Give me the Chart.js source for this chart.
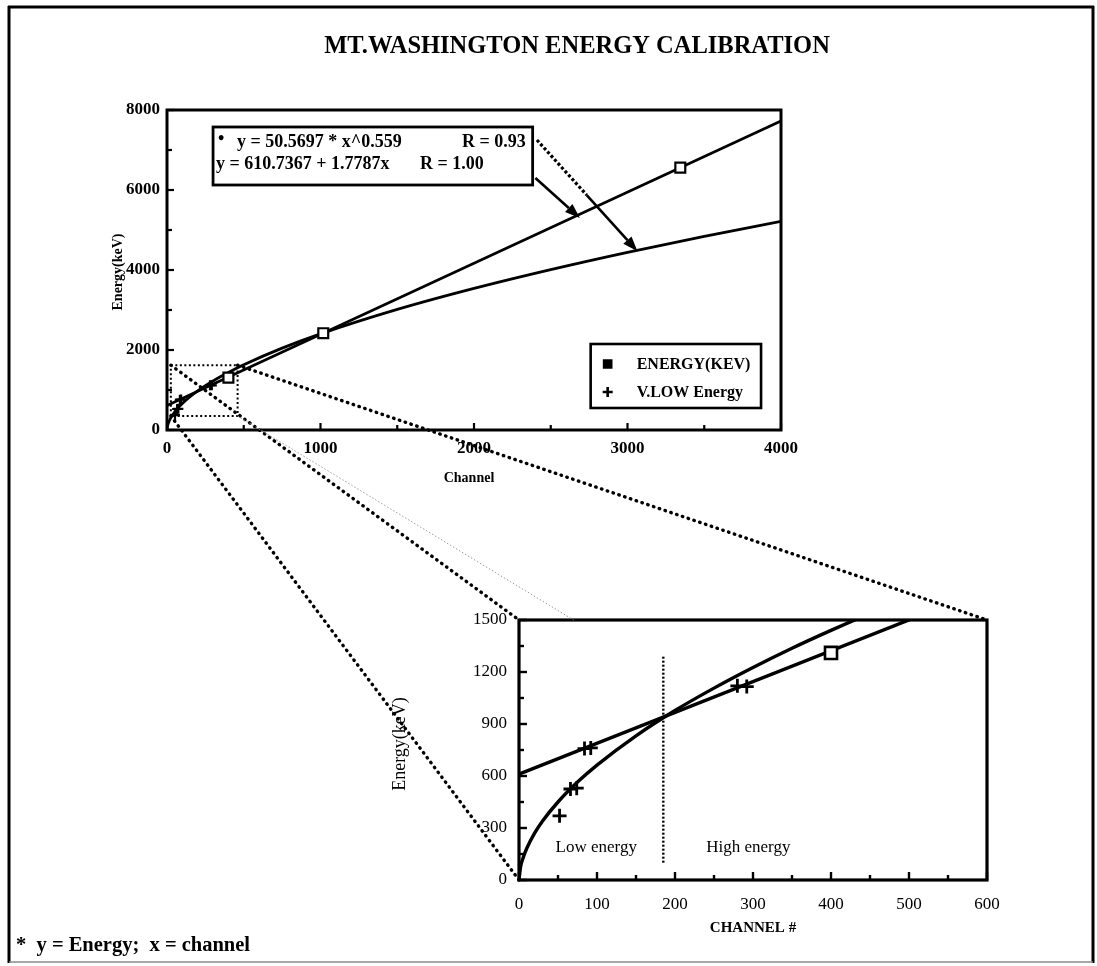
<!DOCTYPE html>
<html>
<head>
<meta charset="utf-8">
<title>MT.WASHINGTON ENERGY CALIBRATION</title>
<script src="https://cdn.jsdelivr.net/npm/chart.js@4.4.1/dist/chart.umd.min.js"></script>
<style>
  html, body { margin: 0; padding: 0; background: #fff; }
  #page { position: relative; width: 1097px; height: 966px; background: #fff; }
  #page canvas { position: absolute; left: 0; top: 0; }
</style>
</head>
<body>
<div id="page">
  <canvas id="mainChart" width="1097" height="966"></canvas>
  <canvas id="insetChart" width="1097" height="966"></canvas>
</div>
<script>
// ---- Calibration data ----
// Calibration lines measured with the reference sources (channel -> keV)
const energyChannel = [400, 1018, 3344];
const energyKeV     = [1310, 2420, 6560];

// Very-low-energy calibration lines
const vlowChannel = [52, 66, 74, 84, 92, 280, 292];
const vlowKeV     = [370, 525, 530, 758, 762, 1120, 1116];

// Linear fit  y = 610.7367 + 1.7787x
const linFitChannel = [0, 4000];
const linFitKeV     = [611, 7726];

// Power-law fit  y = 50.5697 * x^0.559
const powFitChannel = [0, 2, 5, 10, 20, 30, 50, 75, 100, 150, 200, 250, 300, 350, 400, 450, 500, 750, 1000, 1500, 2000, 2500, 3000, 3500, 4000];
const powFitKeV     = [0, 75, 124, 183, 270, 339, 450, 565, 663, 832, 978, 1107, 1226, 1337, 1440, 1538, 1632, 2047, 2404, 3015, 3541, 4011, 4443, 4842, 5215];

// Low / high energy split in the close-up
const splitChannel = [185, 185];
const splitKeV     = [100, 1290];

// Region of the main plot that is enlarged in the close-up
const zoomChannel = [25, 460];
const zoomKeV     = [350, 1620];

// Labelled ticks
const mainXTicks  = [0, 1000, 2000, 3000, 4000];
const mainYTicks  = [0, 2000, 4000, 6000, 8000];
const insetXTicks = [0, 100, 200, 300, 400, 500, 600];
const insetYTicks = [0, 300, 600, 900, 1200, 1500];

const fitLabels = ['y = 50.5697 * x^0.559', 'y = 610.7367 + 1.7787x'];
const fitR      = ['R = 0.93', 'R = 1.00'];

// ---- helpers ----
const SERIF = "'Liberation Serif', 'Times New Roman', serif";
const cssFont = (weight, size) => `${weight} ${size}px ${SERIF}`;
const pts = (xs, ys) => xs.map((x, i) => ({ x, y: ys[i] }));

function seg(ctx, x1, y1, x2, y2) {
  ctx.beginPath(); ctx.moveTo(x1, y1); ctx.lineTo(x2, y2); ctx.stroke();
}

function dotted(ctx, x1, y1, x2, y2, width) {
  ctx.save();
  ctx.lineCap = 'round';
  ctx.lineWidth = width;
  ctx.setLineDash([0.5, 5.6]);
  seg(ctx, x1, y1, x2, y2);
  ctx.restore();
}

function arrow(ctx, x1, y1, x2, y2, dottedPart) {
  const ang = Math.atan2(y2 - y1, x2 - x1);
  const head = 15, hw = 5.5;
  const bx = x2 - head * Math.cos(ang), by = y2 - head * Math.sin(ang);
  const mx = x1 + (bx - x1) * dottedPart, my = y1 + (by - y1) * dottedPart;
  if (dottedPart > 0) {
    ctx.save(); ctx.lineWidth = 3.2; ctx.setLineDash([3, 2.2]); seg(ctx, x1, y1, mx, my); ctx.restore();
  }
  seg(ctx, mx, my, bx, by);
  ctx.beginPath();
  ctx.moveTo(x2, y2);
  ctx.lineTo(bx + hw * Math.sin(ang), by - hw * Math.cos(ang));
  ctx.lineTo(bx - hw * Math.sin(ang), by + hw * Math.cos(ang));
  ctx.closePath();
  ctx.fill();
}

// inward tick marks along the bottom and left edges of the plot frame
function tickMarks(chart, majorLen, minorLen, lw) {
  const { ctx, chartArea: a, scales: { x, y } } = chart;
  ctx.save();
  ctx.strokeStyle = '#000';
  ctx.lineWidth = lw;
  x.ticks.forEach(t => {
    const px = x.getPixelForValue(t.value);
    const len = t.label !== '' ? majorLen : minorLen;
    seg(ctx, px, a.bottom, px, a.bottom - len);
  });
  y.ticks.forEach(t => {
    const py = y.getPixelForValue(t.value);
    const len = t.label !== '' ? majorLen : minorLen;
    seg(ctx, a.left, py, a.left + len, py);
  });
  ctx.restore();
}

function rotatedText(ctx, text, cx, cy) {
  ctx.save();
  ctx.translate(cx, cy);
  ctx.rotate(-Math.PI / 2);
  ctx.textAlign = 'center';
  ctx.textBaseline = 'middle';
  ctx.fillText(text, 0, 0);
  ctx.restore();
}

// ---- main chart decorations ----
const mainDecor = {
  id: 'mainDecor',
  afterDraw(chart) {
    const { ctx, chartArea: a, scales: { x, y } } = chart;
    ctx.save();

    // page frame
    ctx.strokeStyle = '#000';
    ctx.lineWidth = 3;
    seg(ctx, 8, 7, 1094, 7);
    seg(ctx, 9, 6, 9, 963);
    seg(ctx, 1093, 6, 1093, 963);
    ctx.strokeStyle = '#8a8a8a';
    ctx.lineWidth = 1.5;
    seg(ctx, 9, 962, 1093, 962);

    // title and footnote
    ctx.fillStyle = '#000';
    ctx.font = cssFont('bold', 24.5);
    ctx.textAlign = 'center';
    ctx.textBaseline = 'middle';
    ctx.fillText('MT.WASHINGTON ENERGY CALIBRATION', 577, 47);
    ctx.textAlign = 'left';
    ctx.font = cssFont('bold', 20.5);
    ctx.fillText('*  y = Energy;  x = channel', 16, 946);

    // plot frame and ticks
    ctx.strokeStyle = '#000';
    ctx.lineWidth = 3;
    ctx.strokeRect(a.left, a.top, a.right - a.left, a.bottom - a.top);
    tickMarks(chart, 7, 5, 2.2);

    // axis titles
    ctx.font = cssFont('bold', 14);
    ctx.textAlign = 'center';
    ctx.textBaseline = 'middle';
    ctx.fillText('Channel', (a.left + a.right) / 2 - 5, a.bottom + 48);
    rotatedText(ctx, 'Energy(keV)', a.left - 49, (a.top + a.bottom) / 2 + 2);

    // dotted box around the enlarged region
    const zx1 = x.getPixelForValue(zoomChannel[0]), zx2 = x.getPixelForValue(zoomChannel[1]);
    const zy1 = y.getPixelForValue(zoomKeV[1]), zy2 = y.getPixelForValue(zoomKeV[0]);
    ctx.save();
    ctx.lineWidth = 2;
    ctx.setLineDash([2, 2.5]);
    ctx.strokeRect(zx1, zy1, zx2 - zx1, zy2 - zy1);
    ctx.restore();

    // fit equations box
    const bx1 = x.getPixelForValue(300), bx2 = x.getPixelForValue(2382);
    const by1 = y.getPixelForValue(7575), by2 = y.getPixelForValue(6125);
    ctx.fillStyle = '#fff';
    ctx.fillRect(bx1, by1, bx2 - bx1, by2 - by1);
    ctx.lineWidth = 2.8;
    ctx.strokeRect(bx1, by1, bx2 - bx1, by2 - by1);
    ctx.fillStyle = '#000';
    ctx.font = cssFont('bold', 18);
    ctx.textAlign = 'left';
    ctx.fillText('\u2022', bx1 + 5, by1 + 12);
    ctx.fillText(fitLabels[0], bx1 + 24, by1 + 15);
    ctx.fillText(fitLabels[1], bx1 + 3, by1 + 37);
    ctx.textAlign = 'right';
    ctx.fillText(fitR[0], bx2 - 7, by1 + 15);
    ctx.textAlign = 'left';
    ctx.fillText(fitR[1], bx1 + 207, by1 + 37);

    // arrows from the equations to their curves
    ctx.strokeStyle = '#000';
    ctx.lineWidth = 2.6;
    arrow(ctx, x.getPixelForValue(2400), y.getPixelForValue(6300),
               x.getPixelForValue(2690), y.getPixelForValue(5300), 0);
    arrow(ctx, x.getPixelForValue(2410), y.getPixelForValue(7250),
               x.getPixelForValue(3065), y.getPixelForValue(4470), 0.55);

    // legend box
    const lx1 = x.getPixelForValue(2760), lx2 = x.getPixelForValue(3870);
    const ly1 = y.getPixelForValue(2150), ly2 = y.getPixelForValue(550);
    ctx.fillStyle = '#fff';
    ctx.fillRect(lx1, ly1, lx2 - lx1, ly2 - ly1);
    ctx.lineWidth = 2.6;
    ctx.strokeRect(lx1, ly1, lx2 - lx1, ly2 - ly1);
    ctx.fillStyle = '#000';
    ctx.font = cssFont('bold', 16);
    ctx.textAlign = 'left';
    ctx.textBaseline = 'middle';
    [2, 3].forEach((di, row) => {
      const ds = chart.data.datasets[di];
      const ry = ly1 + 20 + row * 28;
      Chart.helpers.drawPoint(ctx, {
        pointStyle: ds.pointStyle, radius: 5, borderWidth: 3, rotation: 0
      }, lx1 + 17, ry);
      ctx.fillText(ds.label, lx1 + 46, ry + 1);
    });
    ctx.restore();
  }
};

const mainTickFont = { family: SERIF, size: 17, weight: 'bold' };

const mainChart = new Chart(document.getElementById('mainChart'), {
  type: 'scatter',
  data: {
    datasets: [
      { label: 'Linear fit', data: pts(linFitChannel, linFitKeV), showLine: true,
        borderColor: '#000', borderWidth: 2.8, pointRadius: 0, order: 3 },
      { label: 'Power fit', data: pts(powFitChannel, powFitKeV), showLine: true,
        borderColor: '#000', borderWidth: 2.8, pointRadius: 0, cubicInterpolationMode: 'monotone', order: 3 },
      { label: 'ENERGY(KEV)', data: pts(energyChannel, energyKeV), pointStyle: 'rect',
        pointRadius: 7, borderColor: '#000', backgroundColor: '#fff', borderWidth: 2.2, order: 1 },
      { label: 'V.LOW Energy', data: pts(vlowChannel, vlowKeV), pointStyle: 'cross',
        pointRadius: 5, borderColor: '#000', borderWidth: 2.2, order: 1 }
    ]
  },
  options: {
    responsive: false,
    devicePixelRatio: 1,
    animation: false,
    events: [],
    layout: { padding: { left: 100, top: 110, right: 316, bottom: 506 } },
    plugins: { legend: { display: false }, tooltip: { enabled: false } },
    scales: {
      x: {
        type: 'linear', min: 0, max: 4000,
        grid: { display: false, drawTicks: false }, border: { display: false },
        ticks: { stepSize: 500, autoSkip: false, maxRotation: 0, padding: 8, color: '#000', font: mainTickFont,
                 callback: v => mainXTicks.includes(v) ? String(v) : '' },
        afterFit: s => { s.height = 30; }
      },
      y: {
        type: 'linear', min: 0, max: 8000,
        grid: { display: false, drawTicks: false }, border: { display: false },
        ticks: { stepSize: 1000, autoSkip: false, padding: 7, color: '#000', font: mainTickFont,
                 callback: v => mainYTicks.includes(v) ? String(v) : '' },
        afterFit: s => { s.width = 67; }
      }
    }
  },
  plugins: [mainDecor]
});

// ---- close-up chart decorations ----
const insetDecor = {
  id: 'insetDecor',
  afterDraw(chart) {
    const { ctx, chartArea: a, scales: { x, y } } = chart;
    ctx.save();
    ctx.strokeStyle = '#000';
    ctx.lineWidth = 3.2;
    ctx.strokeRect(a.left, a.top, a.right - a.left, a.bottom - a.top);
    tickMarks(chart, 8, 5, 2.4);

    ctx.fillStyle = '#000';
    ctx.textAlign = 'center';
    ctx.textBaseline = 'middle';
    ctx.font = cssFont('', 17);
    ctx.fillText('Low energy', x.getPixelForValue(99), y.getPixelForValue(185));
    ctx.fillText('High energy', x.getPixelForValue(294), y.getPixelForValue(185));

    ctx.font = cssFont('bold', 15);
    ctx.fillText('CHANNEL #', (a.left + a.right) / 2, a.bottom + 48);
    ctx.font = cssFont('', 18);
    rotatedText(ctx, 'Energy(keV)', a.left - 119, (a.top + a.bottom) / 2 - 6);

    // connector lines from the dotted box on the main chart
    const m = mainChart.scales;
    const zl = m.x.getPixelForValue(zoomChannel[0]), zr = m.x.getPixelForValue(zoomChannel[1]);
    const zt = m.y.getPixelForValue(zoomKeV[1]), zb = m.y.getPixelForValue(zoomKeV[0]);
    ctx.strokeStyle = '#000';
    dotted(ctx, zr, zt, a.right, a.top, 3.4);
    dotted(ctx, zl, zt, a.left, a.top, 3.4);
    dotted(ctx, zl, zb, a.left, a.bottom, 3.4);
    ctx.save();
    ctx.strokeStyle = '#9a9a9a';
    ctx.lineWidth = 1;
    ctx.setLineDash([1.5, 2]);
    seg(ctx, zr, zb, x.getPixelForValue(70), a.top);
    ctx.restore();
    ctx.restore();
  }
};

const insetTickFont = { family: SERIF, size: 17, weight: 'normal' };

new Chart(document.getElementById('insetChart'), {
  type: 'scatter',
  data: {
    datasets: [
      { label: 'Linear fit', data: pts(linFitChannel, linFitKeV), showLine: true,
        borderColor: '#000', borderWidth: 3.4, pointRadius: 0, order: 3 },
      { label: 'Power fit', data: pts(powFitChannel, powFitKeV), showLine: true,
        borderColor: '#000', borderWidth: 3.4, pointRadius: 0, cubicInterpolationMode: 'monotone', order: 3 },
      { label: 'Low/High split', data: pts(splitChannel, splitKeV), showLine: true,
        borderColor: '#000', borderWidth: 2.4, borderDash: [2, 2], pointRadius: 0, order: 4 },
      { label: 'ENERGY(KEV)', data: pts(energyChannel, energyKeV), pointStyle: 'rect',
        pointRadius: 8.5, borderColor: '#000', backgroundColor: '#fff', borderWidth: 2.6, order: 1 },
      { label: 'V.LOW Energy', data: pts(vlowChannel, vlowKeV), pointStyle: 'cross',
        pointRadius: 7, borderColor: '#000', borderWidth: 2.8, order: 1 }
    ]
  },
  options: {
    responsive: false,
    devicePixelRatio: 1,
    animation: false,
    events: [],
    layout: { padding: { left: 459, top: 620, right: 110, bottom: 56 } },
    plugins: { legend: { display: false }, tooltip: { enabled: false } },
    scales: {
      x: {
        type: 'linear', min: 0, max: 600,
        grid: { display: false, drawTicks: false }, border: { display: false },
        ticks: { stepSize: 50, autoSkip: false, maxRotation: 0, padding: 14, color: '#000', font: insetTickFont,
                 callback: v => insetXTicks.includes(v) ? String(v) : '' },
        afterFit: s => { s.height = 30; }
      },
      y: {
        type: 'linear', min: 0, max: 1500,
        grid: { display: false, drawTicks: false }, border: { display: false },
        ticks: { stepSize: 150, autoSkip: false, padding: 12, color: '#000', font: insetTickFont,
                 callback: v => insetYTicks.includes(v) ? String(v) : '' },
        afterFit: s => { s.width = 60; }
      }
    }
  },
  plugins: [insetDecor]
});
</script>
</body>
</html>
